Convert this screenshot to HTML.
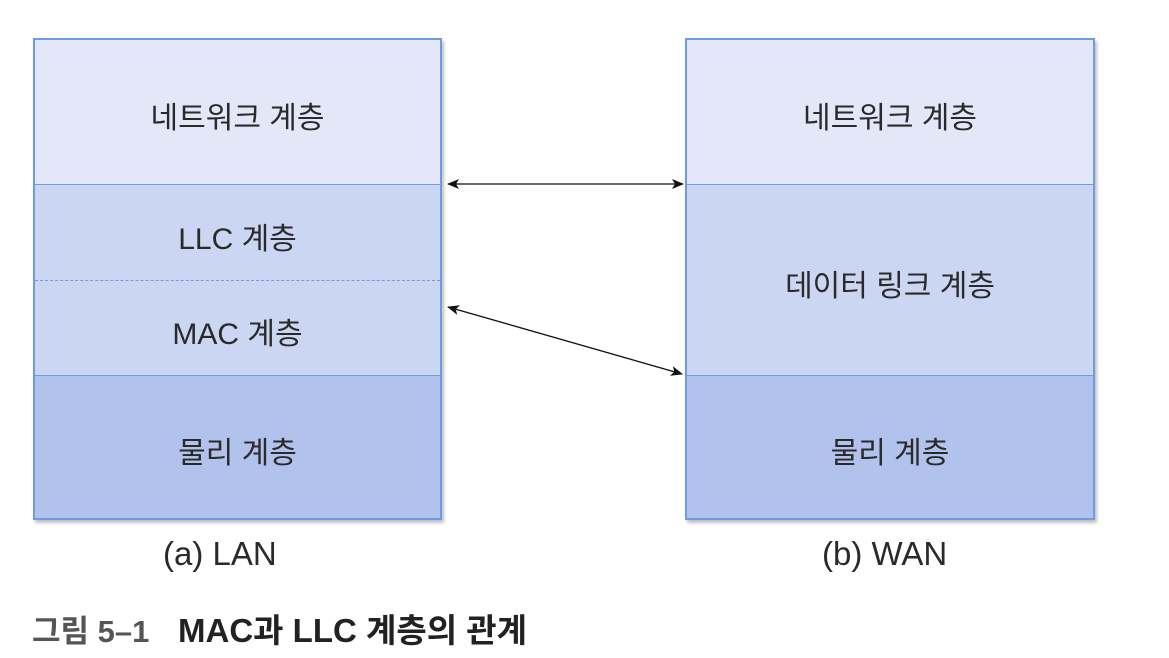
<!DOCTYPE html>
<html><head><meta charset="utf-8"><style>
body{margin:0;width:1169px;height:658px;background:#fff;position:relative;overflow:hidden;font-family:"Liberation Sans","Noto Sans CJK KR",sans-serif;}
.b{position:absolute;box-sizing:border-box;border:2px solid #6f9be2;box-shadow:2px 3px 3px rgba(0,0,0,0.25);}
.l{position:absolute;left:0;right:0;box-sizing:border-box;display:flex;align-items:center;justify-content:center;font-size:30px;color:#2a2a2a;padding-top:6px;}
.t{position:absolute;font-size:33px;color:#2a2a2a;}
</style></head><body>
<div class="b" style="left:33px;top:38px;width:409px;height:482px;">
 <div class="l" style="top:0;height:145px;background:#e3e7f8;border-bottom:1.5px solid #6f9be2">네트워크 계층</div>
 <div class="l" style="top:145px;height:96px;background:#cad6f2;border-bottom:1.5px dashed #6f9be2">LLC 계층</div>
 <div class="l" style="top:241px;height:95px;background:#cad6f2;border-bottom:1.5px solid #6f9be2">MAC 계층</div>
 <div class="l" style="top:336px;height:142px;background:#b1c3ec">물리 계층</div>
</div>
<div class="b" style="left:685px;top:38px;width:410px;height:482px;">
 <div class="l" style="top:0;height:145px;background:#e3e7f8;border-bottom:1.5px solid #6f9be2">네트워크 계층</div>
 <div class="l" style="top:145px;height:191px;background:#cad6f2;border-bottom:1.5px solid #6f9be2">데이터 링크 계층</div>
 <div class="l" style="top:336px;height:142px;background:#b1c3ec">물리 계층</div>
</div>
<svg style="position:absolute;left:0;top:0" width="1169" height="658">
<defs><marker id="a" markerWidth="12" markerHeight="10" refX="11" refY="5" orient="auto-start-reverse" markerUnits="userSpaceOnUse"><path d="M0,0 L12,5 L0,10 L3,5z" fill="#111"/></marker></defs>
<line x1="448" y1="184" x2="683" y2="184" stroke="#111" stroke-width="1.3" marker-start="url(#a)" marker-end="url(#a)"/>
<line x1="448" y1="307" x2="682" y2="374" stroke="#111" stroke-width="1.3" marker-start="url(#a)" marker-end="url(#a)"/>
</svg>
<div class="t" style="left:163px;top:535px;">(a) LAN</div>
<div class="t" style="left:822px;top:535px;">(b) WAN</div>
<div style="position:absolute;left:32px;top:606px;font-size:31px;font-weight:bold;color:#555;">그림 5–1</div>
<div style="position:absolute;left:178px;top:604px;font-size:33px;font-weight:bold;color:#222;">MAC과 LLC 계층의 관계</div>
</body></html>
